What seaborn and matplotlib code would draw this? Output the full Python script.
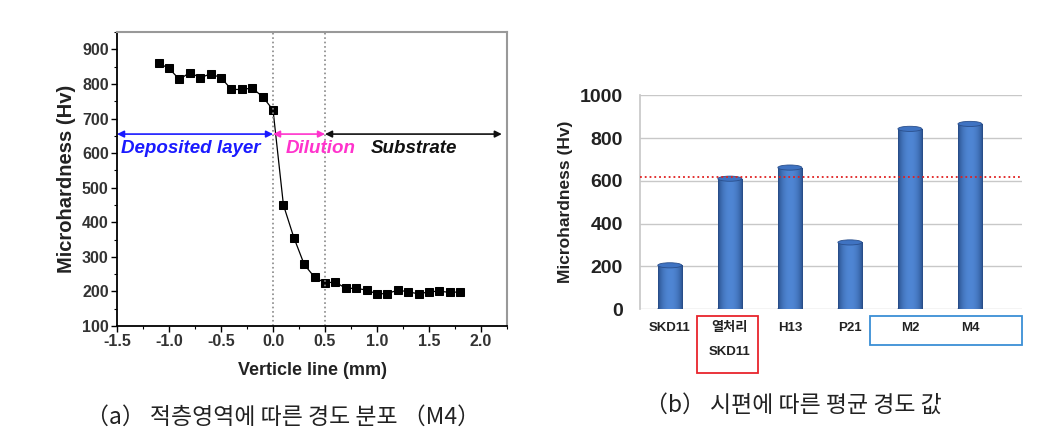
import numpy as np
import pandas as pd
import seaborn as sns
import matplotlib.pyplot as plt
from matplotlib.patches import Ellipse, Rectangle
from matplotlib.ticker import MultipleLocator
from matplotlib.colors import LinearSegmentedColormap

# (a) hardness profile along the vertical line, M4
pos_mm = [-1.1, -1.0, -0.9, -0.8, -0.7, -0.6, -0.5, -0.4, -0.3, -0.2, -0.1, 0.0,
          0.1, 0.2, 0.3, 0.4, 0.5, 0.6, 0.7, 0.8, 0.9, 1.0, 1.1, 1.2, 1.3, 1.4,
          1.5, 1.6, 1.7, 1.8]
hardness = [860, 845, 813, 833, 818, 829, 818, 784, 784, 788, 763, 725,
            450, 356, 278, 241, 225, 227, 209, 209, 204, 193, 194, 204, 199, 193,
            199, 201, 197, 199]
zones = ['Deposited layer', 'Dilution', 'Substrate']
zone_bounds = [(-1.5, 0.0), (0.0, 0.5), (0.5, 2.2)]
zone_colors = ['#1a1aff', '#ff33cc', '#111111']
zone_text_x = [-1.46, 0.12, 0.94]

# (b) mean hardness per specimen
specimens = ['SKD11', '열처리\nSKD11', 'H13', 'P21', 'M2', 'M4']
mean_hv = [205, 610, 662, 312, 843, 866]
ref_hv = 620

sns.set_theme(style='white')
plt.rcParams['font.family'] = ['Liberation Sans', 'Noto Sans CJK KR', 'DejaVu Sans']

fig = plt.figure(figsize=(10.42, 4.33), dpi=100)

# ---------- left panel ----------
ax = fig.add_axes([0.1123, 0.247, 0.3743, 0.679])
df = pd.DataFrame({'x': pos_mm, 'hv': hardness})
sns.lineplot(data=df, x='x', y='hv', ax=ax, color='black', lw=0.9,
             marker='s', markersize=5.5, markeredgecolor='black')
ax.set_xlim(-1.5, 2.25)
ax.set_ylim(100, 950)
ax.xaxis.set_minor_locator(MultipleLocator(0.25))
ax.yaxis.set_major_locator(MultipleLocator(100))
ax.yaxis.set_minor_locator(MultipleLocator(50))
ax.set_xticks(np.arange(-1.5, 2.01, 0.5))
ax.set_xticklabels([f'{v:.1f}' for v in np.arange(-1.5, 2.01, 0.5)])
ax.tick_params(which='major', direction='out', length=4, width=1, color='black',
               labelsize=11.5, pad=2, left=True, bottom=True)
ax.tick_params(which='minor', direction='out', length=2, width=0.8, color='black',
               left=True, bottom=True)
for lab in ax.get_xticklabels() + ax.get_yticklabels():
    lab.set_fontweight('bold')
    lab.set_color('#333333')
for s in ['left', 'bottom']:
    ax.spines[s].set_color('black')
    ax.spines[s].set_linewidth(1.3)
for s in ['top', 'right']:
    ax.spines[s].set_color('#999999')
    ax.spines[s].set_linewidth(1.5)
ax.set_xlabel('Verticle line (mm)', fontsize=13, fontweight='bold', color='#222222', labelpad=9)
ax.set_ylabel('Microhardness (Hv)', fontsize=14.5, fontweight='bold', color='#222222', labelpad=4)
ax.axvline(0.0, color='#888888', ls=':', lw=1.2)
ax.axvline(0.5, color='#888888', ls=':', lw=1.2)

for name, (x0, x1), c, tx in zip(zones, zone_bounds, zone_colors, zone_text_x):
    ax.annotate('', xy=(x0, 655), xytext=(x1, 655),
                arrowprops=dict(arrowstyle='<|-|>', color=c, lw=1.2,
                                mutation_scale=10, shrinkA=0, shrinkB=0))
    ax.text(tx, 612, name, color=c, fontsize=13.5, fontstyle='italic',
            fontweight='bold', va='center', ha='left')

# ---------- right panel ----------
bx = fig.add_axes([0.614, 0.286, 0.367, 0.494])
dfb = pd.DataFrame({'spec': specimens, 'hv': mean_hv})
sns.barplot(data=dfb, x='spec', y='hv', ax=bx, color='#3f72c0', width=0.4,
            saturation=1, edgecolor='#2a4f8c', linewidth=0.6)
bx.yaxis.grid(True, color='#c8c8c8', lw=1)
bx.set_axisbelow(True)
for s in ['top', 'right', 'bottom']:
    bx.spines[s].set_visible(False)
bx.spines['left'].set_color('#c8c8c8')
bx.set_yticks(range(0, 1001, 200))
bx.tick_params(axis='y', labelsize=14, pad=12, length=0)
bx.tick_params(axis='x', labelsize=9.5, length=0, pad=9)
for lab in bx.get_yticklabels() + bx.get_xticklabels():
    lab.set_fontweight('bold')
    lab.set_color('#222222')
for lab in bx.get_xticklabels():
    lab.set_linespacing(2.4)
bx.set_xlabel('')
bx.set_ylabel('Microhardness (Hv)', fontsize=12.5, fontweight='bold', color='#222222', labelpad=5)

# cylinder look: gradient fill clipped to each bar, and elliptic caps
grad = np.sin(np.linspace(0, 1, 64).reshape(1, -1) * np.pi) ** 0.6
cyl = LinearSegmentedColormap.from_list('cyl', ['#23467f', '#4f86d4'])
for p in bx.patches:
    x0, w, h = p.get_x(), p.get_width(), p.get_height()
    im = bx.imshow(grad, cmap=cyl, aspect='auto', extent=(x0, x0 + w, 0, h), zorder=2.5)
    im.set_clip_path(p)
    bx.add_patch(Ellipse((x0 + w / 2, h), w, 24, facecolor='#3f73c2',
                         edgecolor='#2a4f8c', lw=0.6, zorder=3))
    bx.add_patch(Ellipse((x0 + w / 2, 0), w, 24, facecolor='#2c5596',
                         edgecolor='#2a4f8c', lw=0.6, zorder=2.4))
bx.set_xlim(-0.5, 5.87)
bx.set_ylim(0, 1000)
bx.axhline(ref_hv, color='#e02020', ls=':', lw=1.3, zorder=4)

# boxes around highlighted labels
fig.add_artist(Rectangle((697 / 1042, 1 - 373 / 433), 61 / 1042, 57 / 433,
                         transform=fig.transFigure, fill=False, ec='#e8242c', lw=1.3))
fig.add_artist(Rectangle((870 / 1042, 1 - 345 / 433), 152 / 1042, 29 / 433,
                         transform=fig.transFigure, fill=False, ec='#3a8fd6', lw=1.3))

# captions
cap_font = ['Noto Sans CJK KR', 'DejaVu Sans']
fig.text(0.272, 1 - 417 / 433, '（a） 적층영역에 따른 경도 분포 （M4）', ha='center', va='center',
         fontsize=16.5, family=cap_font, color='#222222')
fig.text(0.761, 1 - 405 / 433, '（b） 시편에 따른 평균 경도 값', ha='center', va='center',
         fontsize=16.5, family=cap_font, color='#222222')

fig.savefig('out.png', dpi=100)
